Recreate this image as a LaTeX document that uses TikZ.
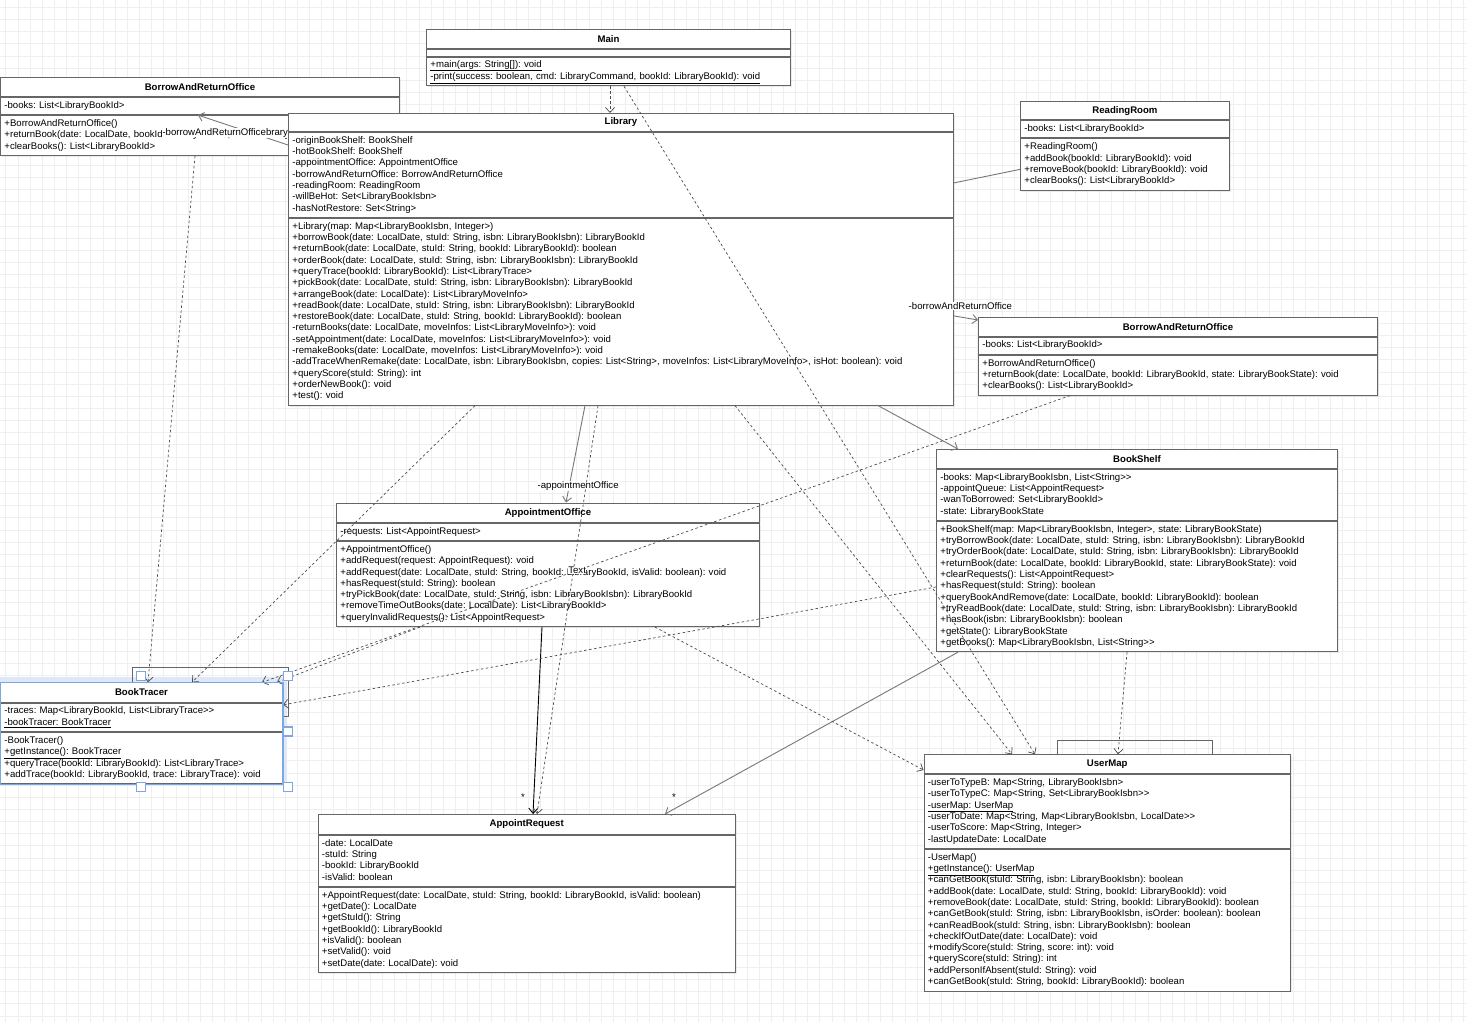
\documentclass[tikz,border=0pt]{standalone}
\usepackage{fontspec}
\setmainfont{Liberation Sans}
\usepackage{xcolor}
\usepackage{tikz}
\usetikzlibrary{arrows.meta, positioning, calc, shadows}

\definecolor{boxline}{HTML}{666666}
\definecolor{assocline}{HTML}{777777}
\definecolor{depline}{HTML}{4A4A4A}
\definecolor{gridgray}{HTML}{EFEFEF}
\definecolor{selblue}{HTML}{7EA6E0}
\definecolor{selglow}{HTML}{DDE8F8}

\newcommand{\umlfont}{\fontsize{9.6}{11.3}\selectfont}
\frenchspacing

\begin{document}
\begin{tikzpicture}[x=1pt, y=-1pt,
    boxshadow/.style={drop shadow={shadow xshift=1.5pt, shadow yshift=-1.5pt, opacity=0.15}},
    classtitle/.style={draw=boxline, fill=white, line width=0.9pt, inner sep=0pt, anchor=north west, font=\umlfont\bfseries, boxshadow},
    members/.style={draw=boxline, fill=white, line width=0.9pt, inner xsep=4pt, inner ysep=0pt, anchor=north west, align=left, font=\umlfont, boxshadow,
        execute at begin node=\strut, execute at end node=\strut},
    assoc/.style={draw=assocline, line width=0.9pt, -{Straight Barb[length=5pt, width=9pt]}},
    depend/.style={draw=depline, line width=0.7pt, dash pattern=on 2.5pt off 2.5pt, -{Straight Barb[length=5pt, width=9pt]}},
    role/.style={fill=white, inner sep=0.5pt, font=\umlfont},
    mult/.style={inner sep=0pt, font=\umlfont},
    gridline/.style={draw=gridgray, line width=0.6pt},
    selhandle/.style={draw=selblue, fill=white, line width=1.2pt}]

    % canvas and grid
    \useasboundingbox (0,0) rectangle (1467,1022);
    \fill [white] (0,0) rectangle (1467,1022);
    \foreach \gx in {5.7,17.85,...,1467} \draw [gridline] (\gx,0) -- (\gx,1022);
    \foreach \gy in {7.35,19.5,...,1022} \draw [gridline] (0,\gy) -- (1467,\gy);

    % BorrowAndReturnOffice (left)
    \node [classtitle, minimum width=399pt, minimum height=19pt] (baroL) at (0,77) {BorrowAndReturnOffice};
    \node [members, text width=391pt, minimum height=17.3pt] (baroL-attr) at (baroL.south west) {-books: List<LibraryBookId>};
    \node [members, text width=391pt, minimum height=39.9pt] (baroL-ops) at (baroL-attr.south west) {+BorrowAndReturnOffice()\\+returnBook(date: LocalDate, bookId: LibraryBookId, state: LibraryBookState): void\\+clearBooks(): List<LibraryBookId>};

    % association hidden under Library
    \coordinate (lib-left) at (288,145);
    \path [assoc] (lib-left) -- node [role, pos=0.163, yshift=7.5pt] {-library} node [role, pos=0.82, yshift=-12pt] {-borrowAndReturnOffice} ([xshift=198pt]baroL-ops.north west);

    % Main
    \node [classtitle, minimum width=364pt, minimum height=19pt] (main) at (426,29) {Main};
    \node [classtitle, minimum width=364pt, minimum height=7pt] (main-attr) at (main.south west) {};
    \node [members, text width=356pt, minimum height=28.6pt] (main-ops) at (main-attr.south west) {\underline{+main(args: String[]): void}\\\underline{-print(success: boolean, cmd: LibraryCommand, bookId: LibraryBookId): void}};

    % Library
    \node [classtitle, minimum width=665pt, minimum height=18pt] (library) at (288,113) {Library};
    \node [members, text width=657pt, minimum height=85.1pt] (library-attr) at (library.south west) {-originBookShelf: BookShelf\\-hotBookShelf: BookShelf\\-appointmentOffice: AppointmentOffice\\-borrowAndReturnOffice: BorrowAndReturnOffice\\-readingRoom: ReadingRoom\\-willBeHot: Set<LibraryBookIsbn>\\-hasNotRestore: Set<String>};
    \node [members, text width=657pt, minimum height=186.8pt] (library-ops) at (library-attr.south west) {+Library(map: Map<LibraryBookIsbn, Integer>)\\+borrowBook(date: LocalDate, stuId: String, isbn: LibraryBookIsbn): LibraryBookId\\+returnBook(date: LocalDate, stuId: String, bookId: LibraryBookId): boolean\\+orderBook(date: LocalDate, stuId: String, isbn: LibraryBookIsbn): LibraryBookId\\+queryTrace(bookId: LibraryBookId): List<LibraryTrace>\\+pickBook(date: LocalDate, stuId: String, isbn: LibraryBookIsbn): LibraryBookId\\+arrangeBook(date: LocalDate): List<LibraryMoveInfo>\\+readBook(date: LocalDate, stuId: String, isbn: LibraryBookIsbn): LibraryBookId\\+restoreBook(date: LocalDate, stuId: String, bookId: LibraryBookId): boolean\\-returnBooks(date: LocalDate, moveInfos: List<LibraryMoveInfo>): void\\-setAppointment(date: LocalDate, moveInfos: List<LibraryMoveInfo>): void\\-remakeBooks(date: LocalDate, moveInfos: List<LibraryMoveInfo>): void\\-addTraceWhenRemake(date: LocalDate, isbn: LibraryBookIsbn, copies: List<String>, moveInfos: List<LibraryMoveInfo>, isHot: boolean): void\\+queryScore(stuId: String): int\\+orderNewBook(): void\\+test(): void};

    % ReadingRoom
    \node [classtitle, minimum width=209pt, minimum height=18.3pt] (reading) at (1020,101) {ReadingRoom};
    \node [members, text width=201pt, minimum height=17.3pt] (reading-attr) at (reading.south west) {-books: List<LibraryBookId>};
    \node [members, text width=201pt, minimum height=51.2pt] (reading-ops) at (reading-attr.south west) {+ReadingRoom()\\+addBook(bookId: LibraryBookId): void\\+removeBook(bookId: LibraryBookId): void\\+clearBooks(): List<LibraryBookId>};

    % BorrowAndReturnOffice (right)
    \node [classtitle, minimum width=399pt, minimum height=18.7pt] (baroR) at (978,317) {BorrowAndReturnOffice};
    \node [members, text width=391pt, minimum height=17.3pt] (baroR-attr) at (baroR.south west) {-books: List<LibraryBookId>};
    \node [members, text width=391pt, minimum height=39.9pt] (baroR-ops) at (baroR-attr.south west) {+BorrowAndReturnOffice()\\+returnBook(date: LocalDate, bookId: LibraryBookId, state: LibraryBookState): void\\+clearBooks(): List<LibraryBookId>};

    % BookShelf
    \node [classtitle, minimum width=401pt, minimum height=19pt] (bookshelf) at (936,449) {BookShelf};
    \node [members, text width=393pt, minimum height=51.2pt] (bookshelf-attr) at (bookshelf.south west) {-books: Map<LibraryBookIsbn, List<String>{}>\\-appointQueue: List<AppointRequest>\\-wanToBorrowed: Set<LibraryBookId>\\-state: LibraryBookState};
    \node [members, text width=393pt, minimum height=130.3pt] (bookshelf-ops) at (bookshelf-attr.south west) {+BookShelf(map: Map<LibraryBookIsbn, Integer>, state: LibraryBookState)\\+tryBorrowBook(date: LocalDate, stuId: String, isbn: LibraryBookIsbn): LibraryBookId\\+tryOrderBook(date: LocalDate, stuId: String, isbn: LibraryBookIsbn): LibraryBookId\\+returnBook(date: LocalDate, bookId: LibraryBookId, state: LibraryBookState): void\\+clearRequests(): List<AppointRequest>\\+hasRequest(stuId: String): boolean\\+queryBookAndRemove(date: LocalDate, bookId: LibraryBookId): boolean\\+tryReadBook(date: LocalDate, stuId: String, isbn: LibraryBookIsbn): LibraryBookId\\+hasBook(isbn: LibraryBookIsbn): boolean\\+getState(): LibraryBookState\\+getBooks(): Map<LibraryBookIsbn, List<String>{}>};

    % AppointmentOffice
    \node [classtitle, minimum width=423pt, minimum height=19.5pt] (appoffice) at (336,502.5) {AppointmentOffice};
    \node [members, text width=415pt, minimum height=17.3pt] (appoffice-attr) at (appoffice.south west) {-requests: List<AppointRequest>};
    \node [members, text width=415pt, minimum height=85.1pt] (appoffice-ops) at (appoffice-attr.south west) {+AppointmentOffice()\\+addRequest(request: AppointRequest): void\\+addRequest(date: LocalDate, stuId: String, bookId: LibraryBookId, isValid: boolean): void\\+hasRequest(stuId: String): boolean\\+tryPickBook(date: LocalDate, stuId: String, isbn: LibraryBookIsbn): LibraryBookId\\+removeTimeOutBooks(date: LocalDate): List<LibraryBookId>\\+queryInvalidRequests(): List<AppointRequest>};

    % BookTracer (selected)
    \fill [selglow] (-5,677) rectangle (287,786);
    \node [classtitle, minimum width=282pt, minimum height=19.4pt] (booktracer) at (0,682.3) {BookTracer};
    \node [members, text width=274pt, minimum height=28.6pt] (booktracer-attr) at (booktracer.south west) {-traces: Map<LibraryBookId, List<LibraryTrace>{}>\\\underline{-bookTracer: BookTracer}};
    \node [members, text width=274pt, minimum height=51.2pt] (booktracer-ops) at (booktracer-attr.south west) {-BookTracer()\\\underline{+getInstance(): BookTracer}\\+queryTrace(bookId: LibraryBookId): List<LibraryTrace>\\+addTrace(bookId: LibraryBookId, trace: LibraryTrace): void};

    % AppointRequest
    \node [classtitle, minimum width=417.5pt, minimum height=20pt] (apprequest) at (317.5,814) {AppointRequest};
    \node [members, text width=409.5pt, minimum height=51.2pt] (apprequest-attr) at (apprequest.south west) {-date: LocalDate\\-stuId: String\\-bookId: LibraryBookId\\-isValid: boolean};
    \node [members, text width=409.5pt, minimum height=85.1pt] (apprequest-ops) at (apprequest-attr.south west) {+AppointRequest(date: LocalDate, stuId: String, bookId: LibraryBookId, isValid: boolean)\\+getDate(): LocalDate\\+getStuId(): String\\+getBookId(): LibraryBookId\\+isValid(): boolean\\+setValid(): void\\+setDate(date: LocalDate): void};

    % UserMap
    \node [classtitle, minimum width=366.5pt, minimum height=19pt] (usermap) at (923.5,754.3) {UserMap};
    \node [members, text width=358.5pt, minimum height=73.8pt] (usermap-attr) at (usermap.south west) {-userToTypeB: Map<String, LibraryBookIsbn>\\-userToTypeC: Map<String, Set<LibraryBookIsbn>{}>\\\underline{-userMap: UserMap}\\-userToDate: Map<String, Map<LibraryBookIsbn, LocalDate>{}>\\-userToScore: Map<String, Integer>\\-lastUpdateDate: LocalDate};
    \node [members, text width=358.5pt, minimum height=141.6pt] (usermap-ops) at (usermap-attr.south west) {-UserMap()\\\underline{+getInstance(): UserMap}\\+canGetBook(stuId: String, isbn: LibraryBookIsbn): boolean\\+addBook(date: LocalDate, stuId: String, bookId: LibraryBookId): void\\+removeBook(date: LocalDate, stuId: String, bookId: LibraryBookId): boolean\\+canGetBook(stuId: String, isbn: LibraryBookIsbn, isOrder: boolean): boolean\\+canReadBook(stuId: String, isbn: LibraryBookIsbn): boolean\\+checkIfOutDate(date: LocalDate): void\\+modifyScore(stuId: String, score: int): void\\+queryScore(stuId: String): int\\+addPersonIfAbsent(stuId: String): void\\+canGetBook(stuId: String, bookId: LibraryBookId): boolean};

    % associations
    \path [assoc] ([yshift=-98pt]library-ops.north east) -- node [role, at start, xshift=6.5pt, yshift=10pt] {-borrowAndReturnOffice} ([yshift=-3pt]baroR.north west);
    \path [draw=assocline, line width=0.9pt] ([yshift=-51pt]library-attr.north east) -- ([yshift=-31pt]reading-ops.north west);
    \path [assoc] ([xshift=590pt]library-ops.south west) -- ([xshift=22pt]bookshelf.north west);
    \path [assoc] ([xshift=297pt]library-ops.south west) -- node [role, pos=0.834, xshift=9pt] {-appointmentOffice} ([xshift=230pt]appoffice.north west);
    \path [assoc, draw=black] ([xshift=206pt]appoffice-ops.south west) -- node [mult, at end, xshift=-10pt, yshift=17pt] {*} ([xshift=215.5pt]apprequest.north west);
    \path [assoc] ([xshift=22pt]bookshelf-ops.south west) -- node [mult, at end, xshift=9pt, yshift=17pt] {*} ([xshift=347.5pt]apprequest.north west);

    % self associations
    \path [draw=boxline, line width=0.9pt] ([xshift=133.5pt]usermap.north west) -- ++(0,-14.3) -| ([xshift=288.5pt]usermap.north west);
    \path [draw=boxline, line width=0.9pt] ([xshift=132pt]booktracer.north west) -- ++(0,-15.3) -| ([xshift=5.7pt, yshift=-14pt]booktracer-attr.north east) -- ([yshift=-14pt]booktracer-attr.north east);

    % dependencies
    \path [depend] ([xshift=184pt]main-ops.south west) -- ([xshift=322pt]library.north west);
    \path [depend] ([xshift=198pt]main-ops.south west) -- ([xshift=111.5pt]usermap.north west);
    \path [depend] ([xshift=447pt]library-ops.south west) -- ([xshift=88.5pt]usermap.north west);
    \path [depend] ([xshift=310pt]library-ops.south west) -- ([xshift=219.5pt]apprequest.north west);
    \path [depend] ([xshift=187pt]library-ops.south west) -- ([xshift=192pt]booktracer.north west);
    \path [depend] ([xshift=195pt]baroL-ops.south west) -- ([xshift=148pt]booktracer.north west);
    \path [depend] ([yshift=-66pt]bookshelf-ops.north west) -- ([yshift=-2.3pt]booktracer-attr.north east);
    \path [depend] ([xshift=92pt]baroR-ops.south west) -- node [role, pos=0.61] {Text} ([xshift=262pt]booktracer.north west);
    \path [depend] ([xshift=84pt]appoffice-ops.south west) -- ([xshift=277pt]booktracer.north west);
    \path [depend] ([xshift=319pt]appoffice-ops.south west) -- ([yshift=-15.7pt]usermap.north west);
    \path [depend] ([xshift=191pt]bookshelf-ops.south west) -- ([xshift=194.5pt]usermap.north west);

    % selection of BookTracer
    \draw [selblue, line width=1.3pt] (booktracer.north west) rectangle (booktracer-ops.south east);
    \foreach \hx/\hy in {-6/676, 141/676, 288/676, -6/731.5, 288/731.5, -6/787, 141/787, 288/787}
        \draw [selhandle] (\hx-4.5,\hy-4.5) rectangle (\hx+4.5,\hy+4.5);
\end{tikzpicture}
\end{document}
